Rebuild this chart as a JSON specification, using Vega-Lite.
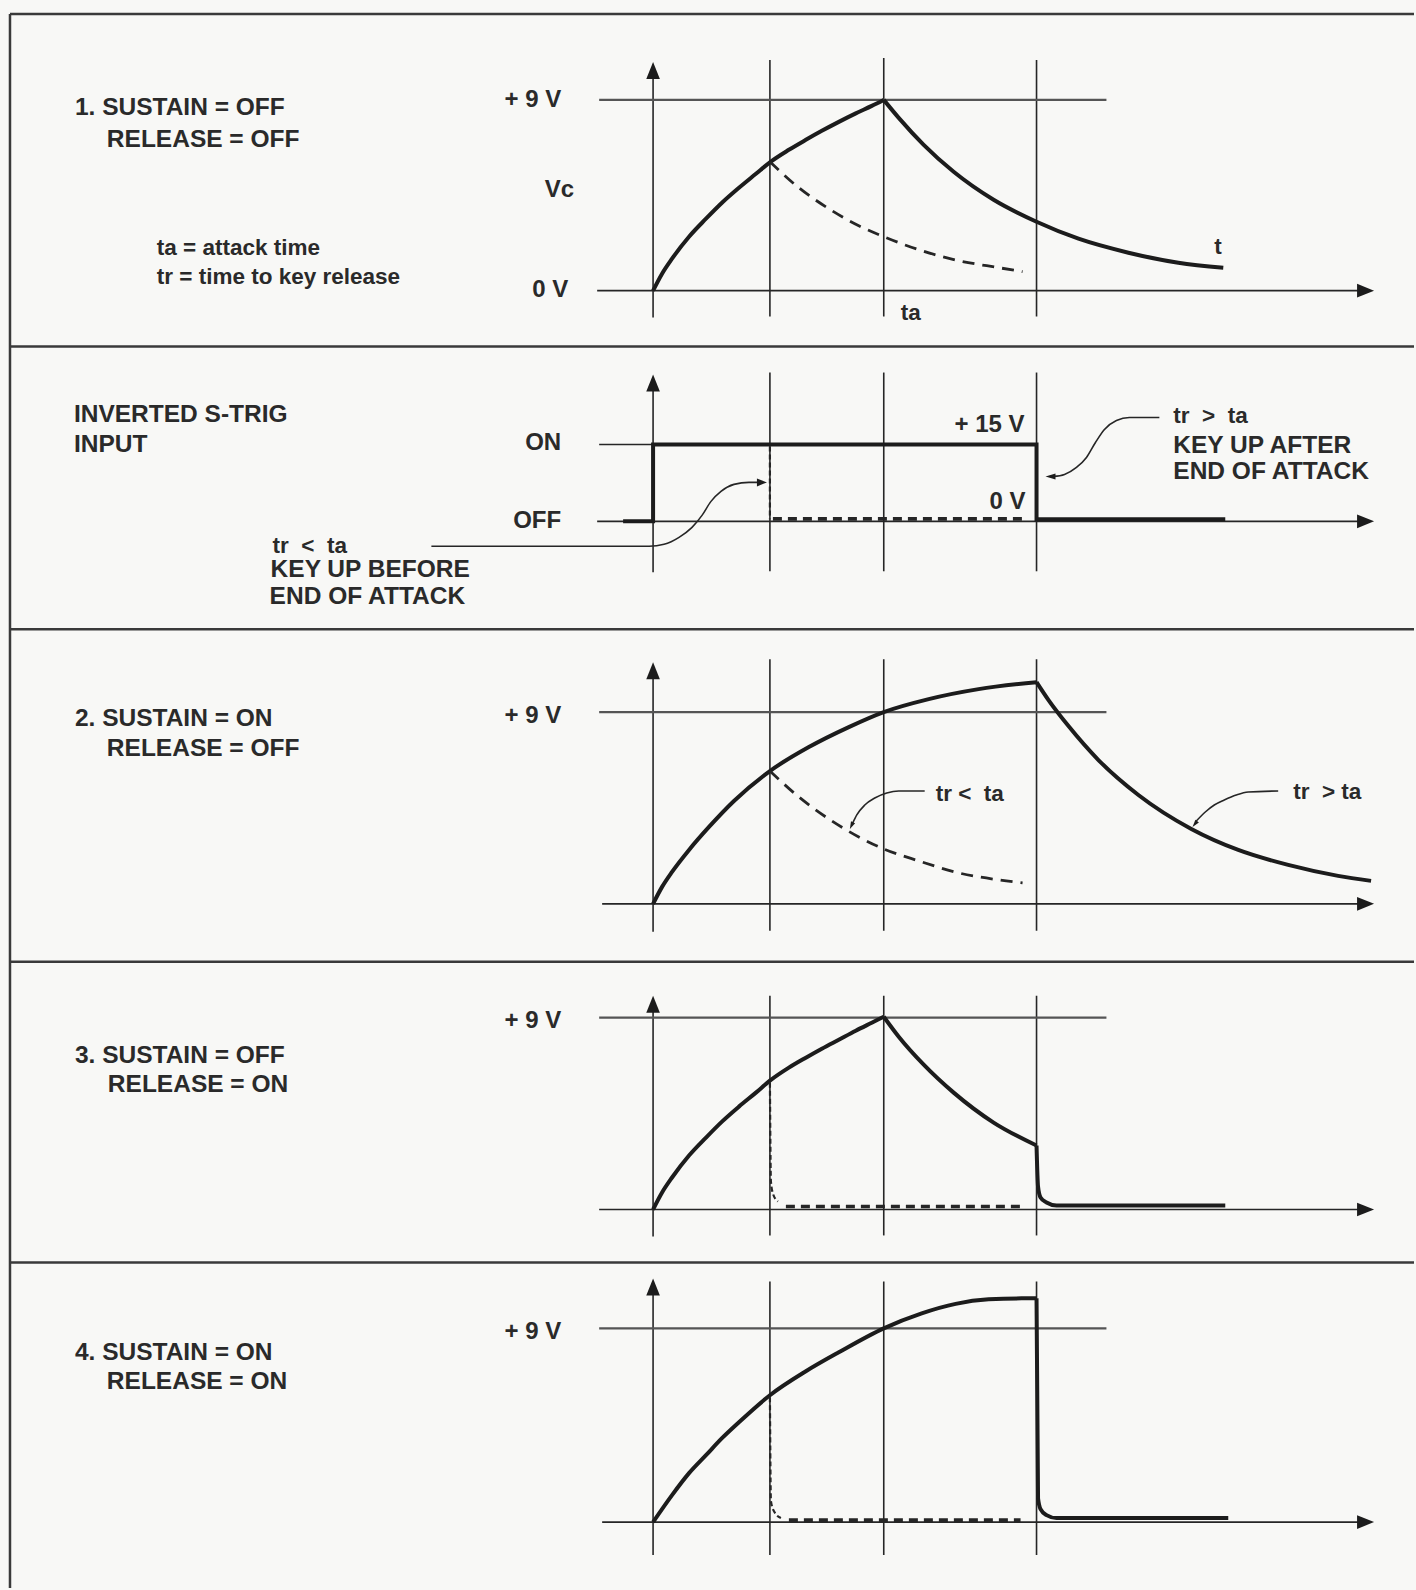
{
  "$schema": "https://vega.github.io/schema/vega-lite/v6.json",
  "width": 1416,
  "height": 1590,
  "padding": 0,
  "autosize": {"type": "fit", "contains": "padding"},
  "background": "#f8f8f6",
  "config": {"view": {"stroke": null}},
  "datasets": {
    "segs": [
      {"x": 10, "y": 14, "x2": 1416, "y2": 14, "kind": "frame"},
      {"x": 10, "y": 347, "x2": 1416, "y2": 347, "kind": "frame"},
      {"x": 10, "y": 630, "x2": 1416, "y2": 630, "kind": "frame"},
      {"x": 10, "y": 963, "x2": 1416, "y2": 963, "kind": "frame"},
      {"x": 10, "y": 1264, "x2": 1416, "y2": 1264, "kind": "frame"},
      {"x": 10, "y": 14, "x2": 10, "y2": 1590, "kind": "frame"},

      {"x": 654, "y": 72, "x2": 654, "y2": 318, "kind": "axis"},
      {"x": 598, "y": 291, "x2": 1366, "y2": 291, "kind": "axis"},
      {"x": 771, "y": 60, "x2": 771, "y2": 317, "kind": "axis"},
      {"x": 885, "y": 58, "x2": 885, "y2": 317, "kind": "axis"},
      {"x": 1038, "y": 60, "x2": 1038, "y2": 317, "kind": "axis"},
      {"x": 600, "y": 100, "x2": 1108, "y2": 100, "kind": "ref"},

      {"x": 654, "y": 385, "x2": 654, "y2": 573, "kind": "axis"},
      {"x": 598, "y": 522, "x2": 1366, "y2": 522, "kind": "axis"},
      {"x": 600, "y": 445, "x2": 654, "y2": 445, "kind": "axis"},
      {"x": 771, "y": 373, "x2": 771, "y2": 572, "kind": "axis"},
      {"x": 885, "y": 373, "x2": 885, "y2": 572, "kind": "axis"},
      {"x": 1038, "y": 373, "x2": 1038, "y2": 572, "kind": "axis"},

      {"x": 654, "y": 673, "x2": 654, "y2": 933, "kind": "axis"},
      {"x": 603, "y": 905, "x2": 1366, "y2": 905, "kind": "axis"},
      {"x": 771, "y": 660, "x2": 771, "y2": 932, "kind": "axis"},
      {"x": 885, "y": 660, "x2": 885, "y2": 932, "kind": "axis"},
      {"x": 1038, "y": 660, "x2": 1038, "y2": 932, "kind": "axis"},
      {"x": 600, "y": 713, "x2": 1108, "y2": 713, "kind": "ref"},

      {"x": 654, "y": 1007, "x2": 654, "y2": 1238, "kind": "axis"},
      {"x": 600, "y": 1211, "x2": 1366, "y2": 1211, "kind": "axis"},
      {"x": 771, "y": 997, "x2": 771, "y2": 1237, "kind": "axis"},
      {"x": 885, "y": 997, "x2": 885, "y2": 1237, "kind": "axis"},
      {"x": 1038, "y": 997, "x2": 1038, "y2": 1237, "kind": "axis"},
      {"x": 600, "y": 1019, "x2": 1108, "y2": 1019, "kind": "ref"},

      {"x": 654, "y": 1290, "x2": 654, "y2": 1557, "kind": "axis"},
      {"x": 603, "y": 1524, "x2": 1366, "y2": 1524, "kind": "axis"},
      {"x": 771, "y": 1283, "x2": 771, "y2": 1557, "kind": "axis"},
      {"x": 885, "y": 1283, "x2": 885, "y2": 1557, "kind": "axis"},
      {"x": 1038, "y": 1283, "x2": 1038, "y2": 1557, "kind": "axis"},
      {"x": 600, "y": 1330, "x2": 1108, "y2": 1330, "kind": "ref"}
    ],
    "paths": [
      {"id": "p1a", "kind": "resp", "x": 654, "y": 291},
      {"id": "p1a", "kind": "resp", "x": 663, "y": 274},
      {"id": "p1a", "kind": "resp", "x": 673, "y": 259},
      {"id": "p1a", "kind": "resp", "x": 690, "y": 237},
      {"id": "p1a", "kind": "resp", "x": 707, "y": 219},
      {"id": "p1a", "kind": "resp", "x": 723, "y": 203},
      {"id": "p1a", "kind": "resp", "x": 740, "y": 188},
      {"id": "p1a", "kind": "resp", "x": 757, "y": 174},
      {"id": "p1a", "kind": "resp", "x": 771, "y": 162.5},
      {"id": "p1a", "kind": "resp", "x": 790, "y": 150},
      {"id": "p1a", "kind": "resp", "x": 807, "y": 140},
      {"id": "p1a", "kind": "resp", "x": 823, "y": 131},
      {"id": "p1a", "kind": "resp", "x": 840, "y": 122},
      {"id": "p1a", "kind": "resp", "x": 857, "y": 113.5},
      {"id": "p1a", "kind": "resp", "x": 873, "y": 106},
      {"id": "p1a", "kind": "resp", "x": 885, "y": 100},

      {"id": "p1b", "kind": "resp", "x": 885, "y": 100},
      {"id": "p1b", "kind": "resp", "x": 900, "y": 118},
      {"id": "p1b", "kind": "resp", "x": 925, "y": 145},
      {"id": "p1b", "kind": "resp", "x": 955, "y": 172},
      {"id": "p1b", "kind": "resp", "x": 995, "y": 200},
      {"id": "p1b", "kind": "resp", "x": 1038, "y": 222},
      {"id": "p1b", "kind": "resp", "x": 1080, "y": 239},
      {"id": "p1b", "kind": "resp", "x": 1130, "y": 253},
      {"id": "p1b", "kind": "resp", "x": 1180, "y": 263},
      {"id": "p1b", "kind": "resp", "x": 1225, "y": 268},

      {"id": "p1c", "kind": "dash", "x": 771, "y": 162},
      {"id": "p1c", "kind": "dash", "x": 800, "y": 188},
      {"id": "p1c", "kind": "dash", "x": 830, "y": 209},
      {"id": "p1c", "kind": "dash", "x": 860, "y": 226},
      {"id": "p1c", "kind": "dash", "x": 885, "y": 237},
      {"id": "p1c", "kind": "dash", "x": 920, "y": 250},
      {"id": "p1c", "kind": "dash", "x": 960, "y": 261},
      {"id": "p1c", "kind": "dash", "x": 1000, "y": 268},
      {"id": "p1c", "kind": "dash", "x": 1024, "y": 272},

      {"id": "s1", "kind": "step", "x": 624, "y": 522},
      {"id": "s1", "kind": "step", "x": 654, "y": 522},
      {"id": "s1", "kind": "step", "x": 654, "y": 445},
      {"id": "s1", "kind": "step", "x": 1038, "y": 445},
      {"id": "s1", "kind": "step", "x": 1038, "y": 520},
      {"id": "s1", "kind": "step", "x": 1227, "y": 520},
      {"id": "s2", "kind": "vdash", "x": 771, "y": 447},
      {"id": "s2", "kind": "vdash", "x": 771, "y": 520},
      {"id": "s3", "kind": "hdash", "x": 774, "y": 519.5},
      {"id": "s3", "kind": "hdash", "x": 1026, "y": 519.5},

      {"id": "l1", "kind": "leader", "x": 432, "y": 547},
      {"id": "l1", "kind": "leader", "x": 650, "y": 547},
      {"id": "l1", "kind": "leader", "x": 665, "y": 545},
      {"id": "l1", "kind": "leader", "x": 680, "y": 538},
      {"id": "l1", "kind": "leader", "x": 693, "y": 528},
      {"id": "l1", "kind": "leader", "x": 703, "y": 516},
      {"id": "l1", "kind": "leader", "x": 712, "y": 502},
      {"id": "l1", "kind": "leader", "x": 722, "y": 492},
      {"id": "l1", "kind": "leader", "x": 735, "y": 485},
      {"id": "l1", "kind": "leader", "x": 750, "y": 483},
      {"id": "l1", "kind": "leader", "x": 760, "y": 483},

      {"id": "l2", "kind": "leader", "x": 1055, "y": 477},
      {"id": "l2", "kind": "leader", "x": 1066, "y": 475},
      {"id": "l2", "kind": "leader", "x": 1078, "y": 468},
      {"id": "l2", "kind": "leader", "x": 1088, "y": 458},
      {"id": "l2", "kind": "leader", "x": 1097, "y": 443},
      {"id": "l2", "kind": "leader", "x": 1106, "y": 430},
      {"id": "l2", "kind": "leader", "x": 1118, "y": 421},
      {"id": "l2", "kind": "leader", "x": 1131, "y": 418},
      {"id": "l2", "kind": "leader", "x": 1161, "y": 418},

      {"id": "p2a", "kind": "resp", "x": 654, "y": 905},
      {"id": "p2a", "kind": "resp", "x": 663, "y": 888},
      {"id": "p2a", "kind": "resp", "x": 673, "y": 873},
      {"id": "p2a", "kind": "resp", "x": 690, "y": 851},
      {"id": "p2a", "kind": "resp", "x": 710, "y": 828},
      {"id": "p2a", "kind": "resp", "x": 735, "y": 802},
      {"id": "p2a", "kind": "resp", "x": 771, "y": 772},
      {"id": "p2a", "kind": "resp", "x": 810, "y": 748},
      {"id": "p2a", "kind": "resp", "x": 850, "y": 728},
      {"id": "p2a", "kind": "resp", "x": 885, "y": 713},
      {"id": "p2a", "kind": "resp", "x": 930, "y": 700},
      {"id": "p2a", "kind": "resp", "x": 980, "y": 690},
      {"id": "p2a", "kind": "resp", "x": 1038, "y": 683},

      {"id": "p2b", "kind": "resp", "x": 1038, "y": 683},
      {"id": "p2b", "kind": "resp", "x": 1050, "y": 701},
      {"id": "p2b", "kind": "resp", "x": 1070, "y": 727},
      {"id": "p2b", "kind": "resp", "x": 1100, "y": 761},
      {"id": "p2b", "kind": "resp", "x": 1140, "y": 796},
      {"id": "p2b", "kind": "resp", "x": 1193, "y": 830},
      {"id": "p2b", "kind": "resp", "x": 1240, "y": 851},
      {"id": "p2b", "kind": "resp", "x": 1290, "y": 866},
      {"id": "p2b", "kind": "resp", "x": 1340, "y": 877},
      {"id": "p2b", "kind": "resp", "x": 1373, "y": 882},

      {"id": "p2c", "kind": "dash", "x": 771, "y": 772},
      {"id": "p2c", "kind": "dash", "x": 800, "y": 798},
      {"id": "p2c", "kind": "dash", "x": 830, "y": 820},
      {"id": "p2c", "kind": "dash", "x": 860, "y": 838},
      {"id": "p2c", "kind": "dash", "x": 885, "y": 850},
      {"id": "p2c", "kind": "dash", "x": 920, "y": 862},
      {"id": "p2c", "kind": "dash", "x": 960, "y": 874},
      {"id": "p2c", "kind": "dash", "x": 1000, "y": 881},
      {"id": "p2c", "kind": "dash", "x": 1024, "y": 884},

      {"id": "l3", "kind": "leader", "x": 854, "y": 824},
      {"id": "l3", "kind": "leader", "x": 858, "y": 816},
      {"id": "l3", "kind": "leader", "x": 866, "y": 806},
      {"id": "l3", "kind": "leader", "x": 876, "y": 799},
      {"id": "l3", "kind": "leader", "x": 888, "y": 794},
      {"id": "l3", "kind": "leader", "x": 900, "y": 792},
      {"id": "l3", "kind": "leader", "x": 926, "y": 792},

      {"id": "l4", "kind": "leader", "x": 1198, "y": 822},
      {"id": "l4", "kind": "leader", "x": 1207, "y": 813},
      {"id": "l4", "kind": "leader", "x": 1216, "y": 806},
      {"id": "l4", "kind": "leader", "x": 1226, "y": 801},
      {"id": "l4", "kind": "leader", "x": 1238, "y": 796},
      {"id": "l4", "kind": "leader", "x": 1250, "y": 793},
      {"id": "l4", "kind": "leader", "x": 1280, "y": 792},

      {"id": "p3a", "kind": "resp", "x": 654, "y": 1211},
      {"id": "p3a", "kind": "resp", "x": 663, "y": 1194},
      {"id": "p3a", "kind": "resp", "x": 673, "y": 1179},
      {"id": "p3a", "kind": "resp", "x": 690, "y": 1157},
      {"id": "p3a", "kind": "resp", "x": 707, "y": 1139},
      {"id": "p3a", "kind": "resp", "x": 723, "y": 1123},
      {"id": "p3a", "kind": "resp", "x": 740, "y": 1108},
      {"id": "p3a", "kind": "resp", "x": 757, "y": 1094},
      {"id": "p3a", "kind": "resp", "x": 771, "y": 1082},
      {"id": "p3a", "kind": "resp", "x": 790, "y": 1069},
      {"id": "p3a", "kind": "resp", "x": 807, "y": 1059},
      {"id": "p3a", "kind": "resp", "x": 823, "y": 1050},
      {"id": "p3a", "kind": "resp", "x": 840, "y": 1041},
      {"id": "p3a", "kind": "resp", "x": 857, "y": 1032},
      {"id": "p3a", "kind": "resp", "x": 873, "y": 1024},
      {"id": "p3a", "kind": "resp", "x": 885, "y": 1018},

      {"id": "p3b", "kind": "resp", "x": 885, "y": 1018},
      {"id": "p3b", "kind": "resp", "x": 900, "y": 1038},
      {"id": "p3b", "kind": "resp", "x": 925, "y": 1066},
      {"id": "p3b", "kind": "resp", "x": 955, "y": 1094},
      {"id": "p3b", "kind": "resp", "x": 995, "y": 1124},
      {"id": "p3b", "kind": "resp", "x": 1038, "y": 1147},

      {"id": "p3d", "kind": "resp", "x": 1038, "y": 1147},
      {"id": "p3d", "kind": "resp", "x": 1039.5, "y": 1188},
      {"id": "p3d", "kind": "resp", "x": 1042, "y": 1199},
      {"id": "p3d", "kind": "resp", "x": 1048, "y": 1204},
      {"id": "p3d", "kind": "resp", "x": 1058, "y": 1207},
      {"id": "p3d", "kind": "resp", "x": 1227, "y": 1207},

      {"id": "p3e", "kind": "finedash", "x": 771, "y": 1084},
      {"id": "p3e", "kind": "finedash", "x": 772, "y": 1183},
      {"id": "p3e", "kind": "finedash", "x": 774, "y": 1195},
      {"id": "p3e", "kind": "finedash", "x": 779, "y": 1203},
      {"id": "p3f", "kind": "hdash", "x": 787, "y": 1208},
      {"id": "p3f", "kind": "hdash", "x": 1022, "y": 1208},

      {"id": "p4a", "kind": "resp", "x": 654, "y": 1524},
      {"id": "p4a", "kind": "resp", "x": 673, "y": 1497},
      {"id": "p4a", "kind": "resp", "x": 690, "y": 1475},
      {"id": "p4a", "kind": "resp", "x": 707, "y": 1457},
      {"id": "p4a", "kind": "resp", "x": 723, "y": 1440},
      {"id": "p4a", "kind": "resp", "x": 740, "y": 1424},
      {"id": "p4a", "kind": "resp", "x": 771, "y": 1397},
      {"id": "p4a", "kind": "resp", "x": 807, "y": 1373},
      {"id": "p4a", "kind": "resp", "x": 840, "y": 1354},
      {"id": "p4a", "kind": "resp", "x": 885, "y": 1330},
      {"id": "p4a", "kind": "resp", "x": 923, "y": 1315},
      {"id": "p4a", "kind": "resp", "x": 957, "y": 1305.5},
      {"id": "p4a", "kind": "resp", "x": 990, "y": 1301},
      {"id": "p4a", "kind": "resp", "x": 1023, "y": 1300},
      {"id": "p4a", "kind": "resp", "x": 1038, "y": 1300},

      {"id": "p4d", "kind": "resp", "x": 1038, "y": 1300},
      {"id": "p4d", "kind": "resp", "x": 1039.5, "y": 1500},
      {"id": "p4d", "kind": "resp", "x": 1042, "y": 1511},
      {"id": "p4d", "kind": "resp", "x": 1048, "y": 1517},
      {"id": "p4d", "kind": "resp", "x": 1058, "y": 1520},
      {"id": "p4d", "kind": "resp", "x": 1230, "y": 1520},

      {"id": "p4e", "kind": "finedash", "x": 771, "y": 1399},
      {"id": "p4e", "kind": "finedash", "x": 772, "y": 1503},
      {"id": "p4e", "kind": "finedash", "x": 775, "y": 1513},
      {"id": "p4e", "kind": "finedash", "x": 782, "y": 1520},
      {"id": "p4f", "kind": "hdash", "x": 790, "y": 1522},
      {"id": "p4f", "kind": "hdash", "x": 1022, "y": 1522}
    ],
    "arrows": [
      {"x": 654, "y": 70.5, "dir": "up", "kind": "big"},
      {"x": 654, "y": 383.5, "dir": "up", "kind": "big"},
      {"x": 654, "y": 671.5, "dir": "up", "kind": "big"},
      {"x": 654, "y": 1005.5, "dir": "up", "kind": "big"},
      {"x": 654, "y": 1288.5, "dir": "up", "kind": "big"},
      {"x": 1367.5, "y": 291, "dir": "right", "kind": "big"},
      {"x": 1367.5, "y": 522, "dir": "right", "kind": "big"},
      {"x": 1367.5, "y": 905, "dir": "right", "kind": "big"},
      {"x": 1367.5, "y": 1211, "dir": "right", "kind": "big"},
      {"x": 1367.5, "y": 1524, "dir": "right", "kind": "big"},
      {"x": 763, "y": 483, "dir": "right", "kind": "small"},
      {"x": 1052, "y": 477, "dir": "left", "kind": "small"},
      {"x": 853, "y": 826, "dir": "dl1", "kind": "small"},
      {"x": 1197, "y": 824.5, "dir": "dl2", "kind": "small"}
    ],
    "labels": [
      {"x": 75, "y": 108, "label": "1. SUSTAIN = OFF", "role": "title"},
      {"x": 107, "y": 140, "label": "RELEASE = OFF", "role": "title"},
      {"x": 157, "y": 248, "label": "ta = attack time", "role": "note"},
      {"x": 157, "y": 277, "label": "tr = time to key release", "role": "note"},
      {"x": 562, "y": 100, "label": "+ 9 V", "role": "level"},
      {"x": 575, "y": 190, "label": "Vc", "role": "level"},
      {"x": 569, "y": 290, "label": "0 V", "role": "level"},
      {"x": 1216, "y": 247, "label": "t", "role": "note"},
      {"x": 902, "y": 313, "label": "ta", "role": "note"},

      {"x": 74, "y": 416, "label": "INVERTED S-TRIG", "role": "title"},
      {"x": 74, "y": 446, "label": "INPUT", "role": "title"},
      {"x": 562, "y": 444, "label": "ON", "role": "level"},
      {"x": 562, "y": 522, "label": "OFF", "role": "level"},
      {"x": 273, "y": 547, "label": "tr\u00a0\u00a0<\u00a0\u00a0ta", "role": "note"},
      {"x": 271, "y": 571, "label": "KEY UP BEFORE", "role": "title"},
      {"x": 270, "y": 598, "label": "END OF ATTACK", "role": "title"},
      {"x": 1026, "y": 426, "label": "+ 15 V", "role": "level"},
      {"x": 1027, "y": 503, "label": "0 V", "role": "level"},
      {"x": 1175, "y": 417, "label": "tr\u00a0\u00a0>\u00a0\u00a0ta", "role": "note"},
      {"x": 1175, "y": 447, "label": "KEY UP AFTER", "role": "title"},
      {"x": 1175, "y": 473, "label": "END OF ATTACK", "role": "title"},

      {"x": 75, "y": 720, "label": "2. SUSTAIN = ON", "role": "title"},
      {"x": 107, "y": 750, "label": "RELEASE = OFF", "role": "title"},
      {"x": 562, "y": 717, "label": "+ 9 V", "role": "level"},
      {"x": 937, "y": 795, "label": "tr\u00a0<\u00a0\u00a0ta", "role": "note"},
      {"x": 1295, "y": 793, "label": "tr\u00a0\u00a0>\u00a0ta", "role": "note"},

      {"x": 562, "y": 1022, "label": "+ 9 V", "role": "level"},
      {"x": 75, "y": 1057, "label": "3. SUSTAIN = OFF", "role": "title"},
      {"x": 108, "y": 1086, "label": "RELEASE = ON", "role": "title"},

      {"x": 562, "y": 1334, "label": "+ 9 V", "role": "level"},
      {"x": 75, "y": 1355, "label": "4. SUSTAIN = ON", "role": "title"},
      {"x": 107, "y": 1384, "label": "RELEASE = ON", "role": "title"}
    ]
  },
  "encoding": {
    "x": {"field": "x", "type": "quantitative", "scale": {"domain": [0, 1416], "nice": false, "zero": false}, "axis": null},
    "y": {"field": "y", "type": "quantitative", "scale": {"domain": [0, 1590], "nice": false, "zero": false, "reverse": true}, "axis": null}
  },
  "layer": [
    {
      "data": {"name": "segs"},
      "transform": [{"filter": "datum.kind === 'frame'"}],
      "mark": {"type": "rule", "stroke": "#3a3a3a", "strokeWidth": 2.5},
      "encoding": {"x2": {"field": "x2"}, "y2": {"field": "y2"}}
    },
    {
      "data": {"name": "segs"},
      "transform": [{"filter": "datum.kind === 'axis'"}],
      "mark": {"type": "rule", "stroke": "#262626", "strokeWidth": 1.6},
      "encoding": {"x2": {"field": "x2"}, "y2": {"field": "y2"}}
    },
    {
      "data": {"name": "segs"},
      "transform": [{"filter": "datum.kind === 'ref'"}],
      "mark": {"type": "rule", "stroke": "#555555", "strokeWidth": 2.2},
      "encoding": {"x2": {"field": "x2"}, "y2": {"field": "y2"}}
    },
    {
      "data": {"name": "paths"},
      "transform": [{"filter": "datum.kind === 'leader'"}],
      "mark": {"type": "line", "stroke": "#262626", "strokeWidth": 1.6, "interpolate": "monotone"},
      "encoding": {"detail": {"field": "id"}, "order": {"value": null}}
    },
    {
      "data": {"name": "paths"},
      "transform": [{"filter": "datum.kind === 'resp'"}],
      "mark": {"type": "line", "stroke": "#1c1c1c", "strokeWidth": 4, "interpolate": "monotone", "strokeCap": "butt", "strokeJoin": "round"},
      "encoding": {"detail": {"field": "id"}, "order": {"value": null}}
    },
    {
      "data": {"name": "paths"},
      "transform": [{"filter": "datum.kind === 'step'"}],
      "mark": {"type": "line", "stroke": "#1c1c1c", "strokeWidth": 4, "interpolate": "linear", "strokeJoin": "miter"},
      "encoding": {"detail": {"field": "id"}, "order": {"value": null}}
    },
    {
      "data": {"name": "paths"},
      "transform": [{"filter": "datum.kind === 'dash'"}],
      "mark": {"type": "line", "stroke": "#262626", "strokeWidth": 2.8, "strokeDash": [12, 8], "interpolate": "monotone"},
      "encoding": {"detail": {"field": "id"}, "order": {"value": null}}
    },
    {
      "data": {"name": "paths"},
      "transform": [{"filter": "datum.kind === 'hdash'"}],
      "mark": {"type": "line", "stroke": "#262626", "strokeWidth": 3.6, "strokeDash": [9, 6], "interpolate": "linear"},
      "encoding": {"detail": {"field": "id"}, "order": {"value": null}}
    },
    {
      "data": {"name": "paths"},
      "transform": [{"filter": "datum.kind === 'finedash'"}],
      "mark": {"type": "line", "stroke": "#262626", "strokeWidth": 2.2, "strokeDash": [5, 3], "interpolate": "monotone"},
      "encoding": {"detail": {"field": "id"}, "order": {"value": null}}
    },
    {
      "data": {"name": "paths"},
      "transform": [{"filter": "datum.kind === 'vdash'"}],
      "mark": {"type": "line", "stroke": "#262626", "strokeWidth": 2.2, "strokeDash": [5, 3], "interpolate": "linear"},
      "encoding": {"detail": {"field": "id"}, "order": {"value": null}}
    },
    {
      "data": {"name": "arrows"},
      "transform": [{"filter": "datum.kind === 'big'"}],
      "mark": {"type": "point", "filled": true, "size": 289, "color": "#1c1c1c", "opacity": 1},
      "encoding": {
        "shape": {"field": "dir", "type": "nominal", "legend": null,
          "scale": {"domain": ["up", "right", "left", "dl1", "dl2"],
            "range": ["M0,-1L0.8,1L-0.8,1Z", "M1,0L-1,0.8L-1,-0.8Z", "M-1,0L1,0.6L1,-0.6Z", "M-0.38,0.82L0.66,-0.36L-0.16,-0.74Z", "M-0.56,0.7L0.72,-0.19L0.02,-0.75Z"]}}
      }
    },
    {
      "data": {"name": "arrows"},
      "transform": [{"filter": "datum.kind === 'small'"}],
      "mark": {"type": "point", "filled": true, "size": 100, "color": "#1c1c1c", "opacity": 1},
      "encoding": {
        "shape": {"field": "dir", "type": "nominal", "legend": null,
          "scale": {"domain": ["up", "right", "left", "dl1", "dl2"],
            "range": ["M0,-1L0.8,1L-0.8,1Z", "M1,0L-1,0.8L-1,-0.8Z", "M-1,0L1,0.6L1,-0.6Z", "M-0.38,0.82L0.66,-0.36L-0.16,-0.74Z", "M-0.56,0.7L0.72,-0.19L0.02,-0.75Z"]}}
      }
    },
    {
      "data": {"name": "labels"},
      "transform": [{"filter": "datum.role === 'title'"}],
      "mark": {"type": "text", "align": "left", "baseline": "middle", "font": "Liberation Sans", "fontSize": 24.5, "fontWeight": "bold", "color": "#2a2a2a"},
      "encoding": {"text": {"field": "label"}}
    },
    {
      "data": {"name": "labels"},
      "transform": [{"filter": "datum.role === 'note'"}],
      "mark": {"type": "text", "align": "left", "baseline": "middle", "font": "Liberation Sans", "fontSize": 22.5, "fontWeight": "bold", "color": "#2a2a2a"},
      "encoding": {"text": {"field": "label"}}
    },
    {
      "data": {"name": "labels"},
      "transform": [{"filter": "datum.role === 'level'"}],
      "mark": {"type": "text", "align": "right", "baseline": "middle", "font": "Liberation Sans", "fontSize": 24, "fontWeight": "bold", "color": "#2a2a2a"},
      "encoding": {"text": {"field": "label"}}
    }
  ]
}
